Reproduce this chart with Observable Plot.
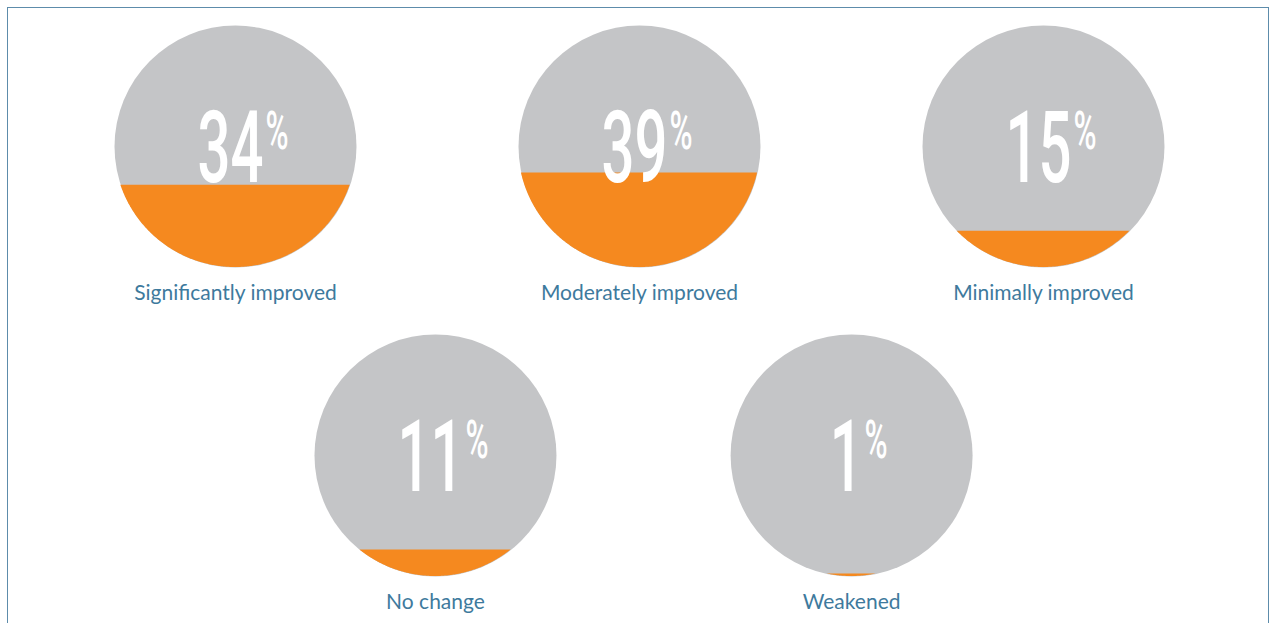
<!DOCTYPE html>
<html>
<head>
<meta charset="utf-8">
<script src="https://cdn.jsdelivr.net/npm/d3@7"></script>
<script src="https://cdn.jsdelivr.net/npm/@observablehq/plot@0.6"></script>
<style>
  html, body { margin: 0; padding: 0; background: #ffffff; overflow: hidden; }
  #wrap { position: relative; width: 1277px; height: 623px; }
  #frame { position: absolute; left: 7px; top: 7px; width: 1262px; height: 700px; border: 1.5px solid #5d8cab; box-sizing: border-box; }
  #chart { position: absolute; left: 0; top: 0; }
</style>
</head>
<body>
<div id="wrap">
  <div id="frame"></div>
  <div id="chart"></div>
</div>
<script>
// ---- data ----
const categories = ["Significantly improved", "Moderately improved", "Minimally improved", "No change", "Weakened"];
const percents = [34, 39, 15, 11, 1];

// ---- layout (grid slots) ----
const layoutCol = [0, 1, 2, 0.495, 1.525];
const layoutRow = [0, 0, 0, 1, 1];
const XR = [235, 1043];   // pixel range for columns 0..2
const YR = [146, 455];    // pixel range for rows 0..1
const R = 121;            // circle radius, px
const kx = (XR[1] - XR[0]) / 2;
const ky = (YR[1] - YR[0]) / 1;

const GRAY = "#c4c5c7";
const ORANGE = "#f5891f";
const LABEL = "#3e7a9d";

const data = categories.map((c, i) => ({
  category: c, pct: percents[i], col: layoutCol[i], row: layoutRow[i]
}));

// orange segment outline points (circle segment filled from the bottom up to pct of diameter)
const N = 120;
const seg = [];
data.forEach((d, i) => {
  const tmax = Math.acos(1 - 2 * d.pct / 100);
  for (let k = 0; k <= N; k++) {
    const t = tmax * k / N;
    seg.push({
      key: i,
      y: d.row + R * Math.cos(t) / ky,
      x1: d.col - R * Math.sin(t) / kx,
      x2: d.col + R * Math.sin(t) / kx
    });
  }
});

const SX = 0.58;
const DIG = 34, PCTW = 24, CENTER_SHIFT = 6;
const anchorX = d => {
  const n = String(d.pct).length;
  return d.col + (CENTER_SHIFT + (n * DIG - PCTW) / 2) / kx;
};

const chart = Plot.plot({
  width: 1277,
  height: 623,
  margin: 0,
  x: { domain: [0, 2], range: XR, axis: null },
  y: { domain: [0, 1], range: YR, axis: null },
  style: { background: "transparent", overflow: "visible" },
  marks: [
    Plot.dot(data, { x: "col", y: "row", r: R, fill: GRAY, stroke: null }),
    Plot.areaX(seg, { y: "y", x1: "x1", x2: "x2", z: "key", fill: ORANGE, curve: "linear" }),
    Plot.text(data, {
      x: anchorX, y: "row", text: d => String(d.pct),
      textAnchor: "end", lineAnchor: "bottom", dy: 35,
      fontSize: 100, fontFamily: "Roboto", fontWeight: 500, fill: "#ffffff"
    }),
    Plot.text(data, {
      x: anchorX, y: "row", text: () => "%",
      textAnchor: "start", lineAnchor: "bottom", dy: 2, dx: 2,
      fontSize: 54, fontFamily: "Roboto", fontWeight: 500, fill: "#ffffff"
    }),
    Plot.text(data, {
      x: "col", y: "row", text: "category",
      textAnchor: "middle", lineAnchor: "bottom", dy: 153,
      fontSize: 21, fontFamily: "Lato", fill: LABEL
    })
  ]
});

// condense the big numbers horizontally (narrow display face look)
chart.querySelectorAll("text").forEach(t => {
  const g = t.closest("[font-size]");
  const fs = g ? g.getAttribute("font-size") : null;
  if (fs !== "100" && fs !== "54") return;
  const x = +t.getAttribute("x") || 0, y = +t.getAttribute("y") || 0;
  const tr = t.getAttribute("transform") || "";
  t.removeAttribute("x"); t.removeAttribute("y");
  t.setAttribute("transform", `${tr} translate(${x},${y}) scale(${SX},1)`);
});

document.getElementById("chart").appendChild(chart);
</script>
</body>
</html>
